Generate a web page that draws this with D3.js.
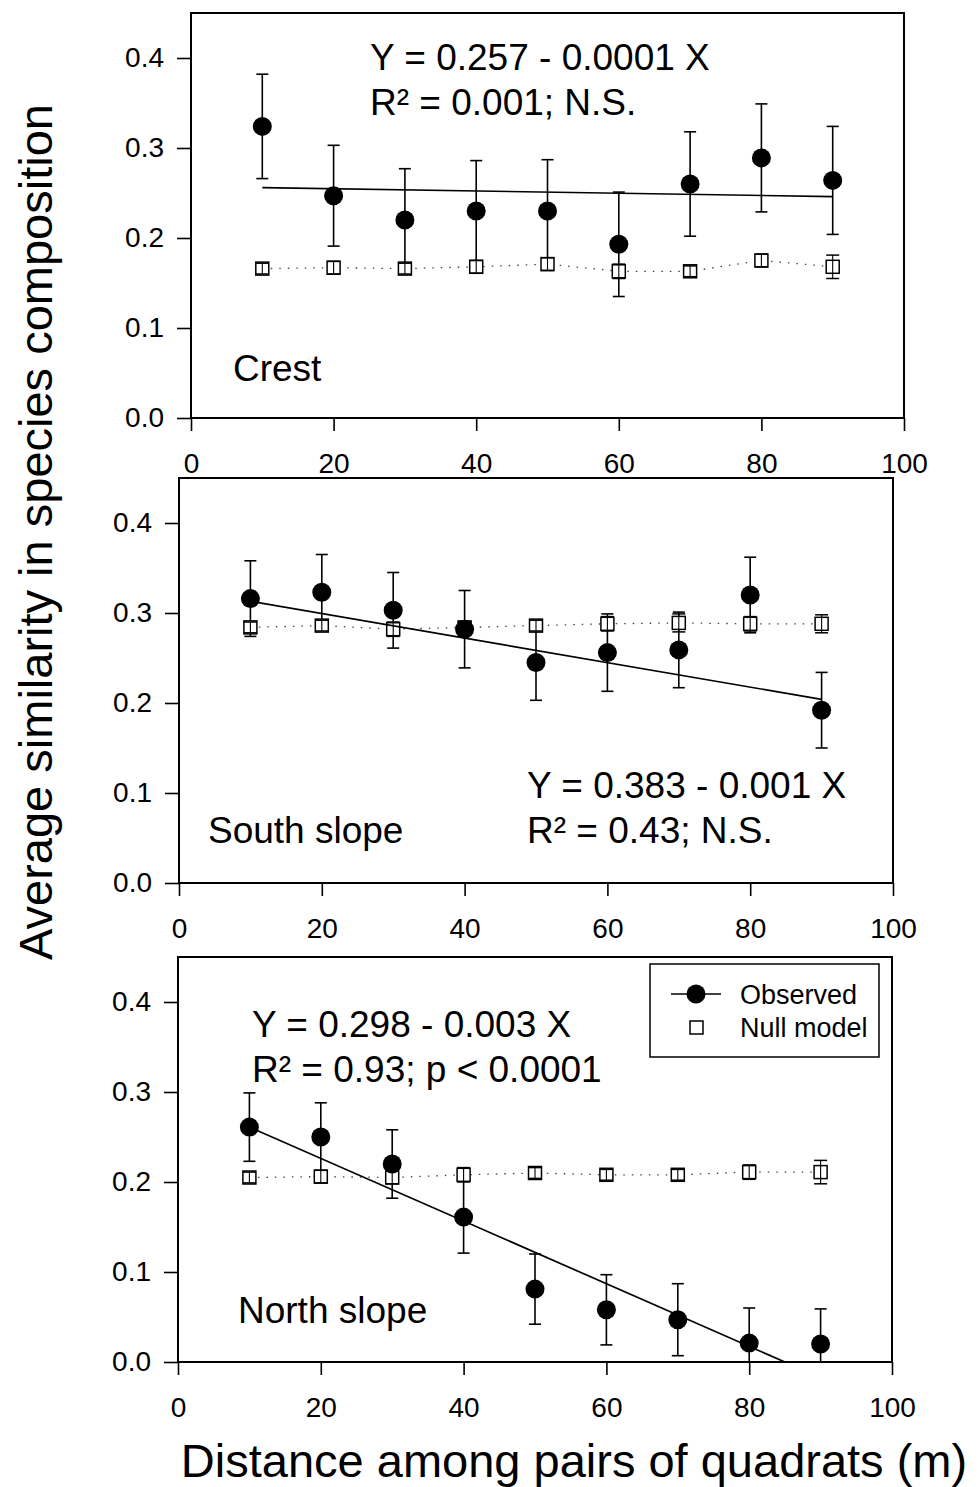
<!DOCTYPE html>
<html><head><meta charset="utf-8">
<script src="https://cdn.jsdelivr.net/npm/d3@7"></script>
<style>
body{margin:0;background:#fff}
svg text{font-family:"Liberation Sans",Arial,Helvetica,sans-serif;fill:#000}
</style>
</head><body>
<svg id="chart" width="978" height="1487"></svg>
<script>
// ---------- data ----------
const distances = [10, 20, 30, 40, 50, 60, 70, 80, 90];
const xTickValues = [0, 20, 40, 60, 80, 100];
const yTickValues = [0, 0.1, 0.2, 0.3, 0.4];
const siteNames = ["Crest", "South slope", "North slope"];
const equationLabels = ["Y = 0.257 - 0.0001 X", "Y = 0.383 - 0.001 X", "Y = 0.298 - 0.003 X"];
const r2Labels = ["R\u00B2 = 0.001; N.S.", "R\u00B2 = 0.43; N.S.", "R\u00B2 = 0.93; p < 0.0001"];
const legendLabels = ["Observed", "Null model"];
const yTitle = "Average similarity in species composition";
const xTitle = "Distance among pairs of quadrats (m)";

const crestObserved    = [0.324, 0.247, 0.220, 0.230, 0.230, 0.193, 0.260, 0.289, 0.264];
const crestObservedErr = [0.058, 0.056, 0.057, 0.056, 0.057, 0.058, 0.058, 0.060, 0.060];
const crestNull        = [0.166, 0.167, 0.166, 0.168, 0.171, 0.163, 0.163, 0.175, 0.168];
const crestNullErr     = [0.006, 0.007, 0.006, 0.007, 0.007, 0.008, 0.006, 0.007, 0.013];
const crestFit         = [[10, 0.256], [90, 0.246]];

const southObserved    = [0.316, 0.323, 0.303, 0.282, 0.245, 0.256, 0.259, 0.320, 0.192];
const southObservedErr = [0.042, 0.042, 0.042, 0.043, 0.042, 0.043, 0.042, 0.042, 0.042];
const southNull        = [0.284, 0.286, 0.282, 0.284, 0.286, 0.288, 0.289, 0.288, 0.288];
const southNullErr     = [0.006, 0.006, 0.008, 0.006, 0.006, 0.008, 0.010, 0.008, 0.010];
const southFit         = [[10, 0.313], [90, 0.204]];

const northObserved    = [0.261, 0.250, 0.220, 0.161, 0.081, 0.058, 0.047, 0.021, 0.020];
const northObservedErr = [0.038, 0.038, 0.038, 0.040, 0.039, 0.039, 0.040, 0.039, 0.039];
const northNull        = [0.205, 0.206, 0.205, 0.208, 0.210, 0.208, 0.208, 0.211, 0.211];
const northNullErr     = [0.006, 0.007, 0.007, 0.008, 0.006, 0.006, 0.006, 0.008, 0.013];
const northFit         = [[10, 0.261], [85, 0.0]];

// ---------- layout ----------
const panels = [
  {left:191, right:904, top:13,  bottom:418,  obs:crestObserved, obsErr:crestObservedErr, nul:crestNull, nulErr:crestNullErr, fit:crestFit,
   eq:[370, 70, 115], site:[233, 381], legend:false},
  {left:179, right:893, top:478, bottom:883,  obs:southObserved, obsErr:southObservedErr, nul:southNull, nulErr:southNullErr, fit:southFit,
   eq:[527, 798, 843], site:[208, 843], legend:false},
  {left:178, right:892, top:957, bottom:1362, obs:northObserved, obsErr:northObservedErr, nul:northNull, nulErr:northNullErr, fit:northFit,
   eq:[252, 1037, 1082], site:[238, 1323], legend:true}
];

const svg = d3.select("#chart");
svg.append("rect").attr("width", 978).attr("height", 1487).attr("fill", "#fff");

panels.forEach((p, i) => {
  const x = d3.scaleLinear().domain([0, 100]).range([p.left, p.right]);
  const y = d3.scaleLinear().domain([0, 0.45]).range([p.bottom, p.top]);
  const g = svg.append("g");
  const clipId = "clip" + i;
  svg.append("clipPath").attr("id", clipId).append("rect")
    .attr("x", p.left).attr("y", p.top).attr("width", p.right - p.left).attr("height", p.bottom - p.top);
  const plot = g.append("g").attr("clip-path", `url(#${clipId})`);

  const obsData = distances.map((d, k) => ({x:d, v:p.obs[k], e:p.obsErr[k]}));
  const nulData = distances.map((d, k) => ({x:d, v:p.nul[k], e:p.nulErr[k]}));

  // observed error bars
  const ob = plot.append("g").attr("stroke", "#000").attr("stroke-width", 1.6);
  obsData.forEach(d => {
    ob.append("line").attr("x1", x(d.x)).attr("x2", x(d.x)).attr("y1", y(d.v - d.e)).attr("y2", y(d.v + d.e));
    [d.v - d.e, d.v + d.e].forEach(v => {
      ob.append("line").attr("x1", x(d.x) - 6).attr("x2", x(d.x) + 6).attr("y1", y(v)).attr("y2", y(v));
    });
  });

  // null dotted line
  plot.append("path").datum(nulData)
    .attr("d", d3.line().x(d => x(d.x)).y(d => y(d.v)))
    .attr("fill", "none").attr("stroke", "#444").attr("stroke-width", 1.3).attr("stroke-dasharray", "1.5,7");

  // null squares + error bars
  const nb = plot.append("g");
  nulData.forEach(d => {
    nb.append("rect").attr("x", x(d.x) - 6.5).attr("y", y(d.v) - 6.5).attr("width", 13).attr("height", 13)
      .attr("fill", "#fff").attr("stroke", "#000").attr("stroke-width", 1.5);
    nb.append("line").attr("x1", x(d.x)).attr("x2", x(d.x)).attr("y1", y(d.v - d.e)).attr("y2", y(d.v + d.e))
      .attr("stroke", "#000").attr("stroke-width", 1.1);
    [d.v - d.e, d.v + d.e].forEach(v => {
      nb.append("line").attr("x1", x(d.x) - 6.5).attr("x2", x(d.x) + 6.5).attr("y1", y(v)).attr("y2", y(v))
        .attr("stroke", "#000").attr("stroke-width", 1.5);
    });
  });

  // regression line
  plot.append("path").datum(p.fit)
    .attr("d", d3.line().x(d => x(d[0])).y(d => y(d[1])))
    .attr("fill", "none").attr("stroke", "#000").attr("stroke-width", 1.7);

  // observed dots
  plot.append("g").selectAll("circle").data(obsData).join("circle")
    .attr("cx", d => x(d.x)).attr("cy", d => y(d.v)).attr("r", 9.5).attr("fill", "#000");

  // frame
  g.append("rect").attr("x", p.left).attr("y", p.top).attr("width", p.right - p.left).attr("height", p.bottom - p.top)
    .attr("fill", "none").attr("stroke", "#000").attr("stroke-width", 2);

  // axes
  const xa = g.append("g").attr("transform", `translate(0,${p.bottom})`)
    .call(d3.axisBottom(x).tickValues(xTickValues).tickSize(13).tickPadding(22).tickFormat(d3.format("d")));
  const ya = g.append("g").attr("transform", `translate(${p.left},0)`)
    .call(d3.axisLeft(y).tickValues(yTickValues).tickSize(14).tickPadding(13).tickFormat(d3.format(".1f")));
  [xa, ya].forEach(a => {
    a.select(".domain").remove();
    a.selectAll(".tick line").attr("stroke", "#000").attr("stroke-width", 1.6);
    a.selectAll(".tick text").style("font-size", "28px").attr("fill", "#000");
  });

  // annotations
  g.append("text").attr("x", p.eq[0]).attr("y", p.eq[1]).style("font-size", "37px").text(equationLabels[i]);
  g.append("text").attr("x", p.eq[0]).attr("y", p.eq[2]).style("font-size", "37px").text(r2Labels[i]);
  g.append("text").attr("x", p.site[0]).attr("y", p.site[1]).style("font-size", "37px").text(siteNames[i]);

  if (p.legend) {
    const lg = g.append("g");
    lg.append("rect").attr("x", 650).attr("y", 964).attr("width", 229).attr("height", 93)
      .attr("fill", "#fff").attr("stroke", "#000").attr("stroke-width", 1.5);
    lg.append("line").attr("x1", 671).attr("x2", 721).attr("y1", 994).attr("y2", 994).attr("stroke", "#000").attr("stroke-width", 1.7);
    lg.append("circle").attr("cx", 696).attr("cy", 994).attr("r", 9.5).attr("fill", "#000");
    lg.append("rect").attr("x", 690).attr("y", 1021).attr("width", 13).attr("height", 13)
      .attr("fill", "#fff").attr("stroke", "#000").attr("stroke-width", 1.5);
    lg.append("text").attr("x", 740).attr("y", 1004).style("font-size", "27px").text(legendLabels[0]);
    lg.append("text").attr("x", 740).attr("y", 1037).style("font-size", "27px").text(legendLabels[1]);
  }
});

// axis titles
svg.append("text").attr("transform", "translate(52,532) rotate(-90)").attr("text-anchor", "middle")
  .style("font-size", "47px").text(yTitle);
svg.append("text").attr("x", 574).attr("y", 1477).attr("text-anchor", "middle")
  .style("font-size", "47px").text(xTitle);
</script>
</body></html>
